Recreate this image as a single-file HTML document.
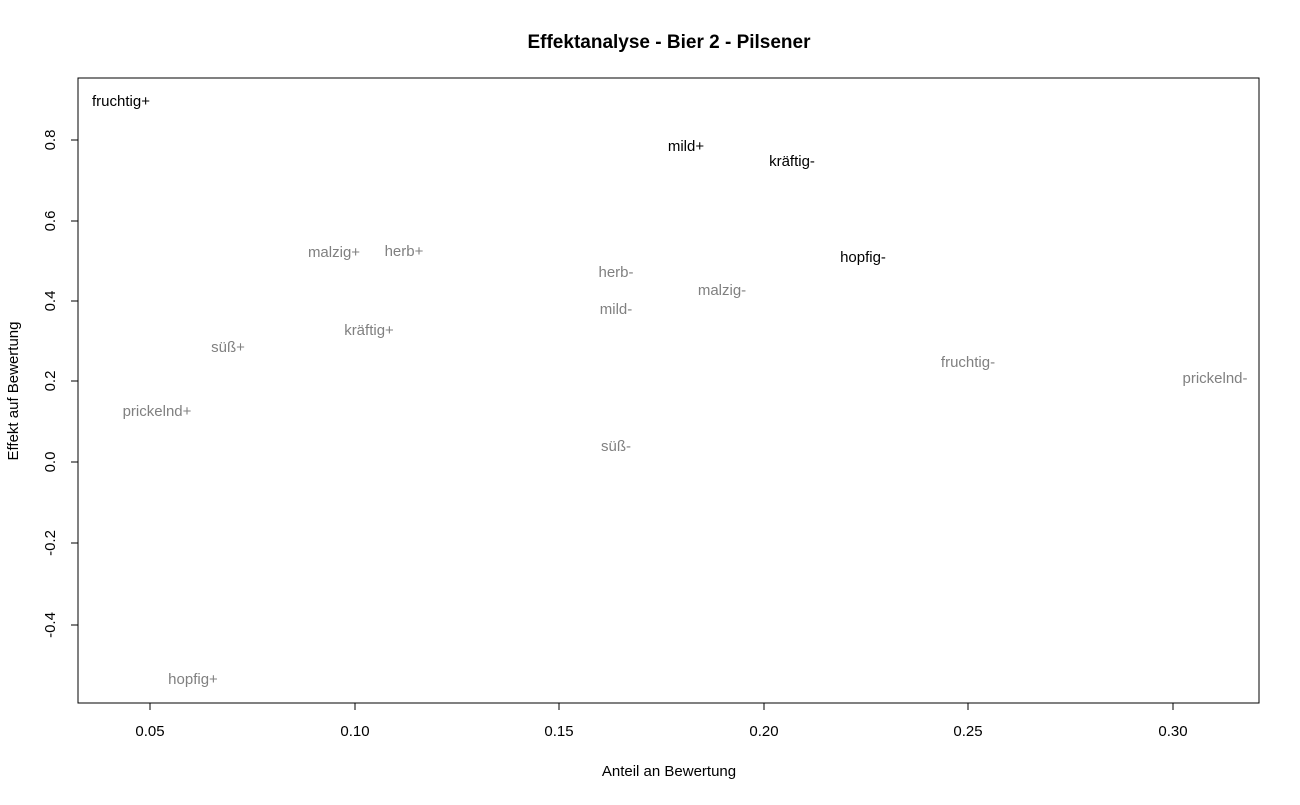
<!DOCTYPE html>
<html><head><meta charset="utf-8"><style>
body{margin:0;background:#fff;}
svg text{font-family:"Liberation Sans",Arial,sans-serif;}
</style></head><body>
<svg width="1300" height="800" xmlns="http://www.w3.org/2000/svg">
<rect width="1300" height="800" fill="#fff"/>
<text x="669" y="48" text-anchor="middle" font-size="19" font-weight="bold">Effektanalyse - Bier 2 - Pilsener</text>
<rect x="78" y="78" width="1181" height="625" fill="none" stroke="#000" stroke-width="1"/>
<g stroke="#000" stroke-width="1">
<line x1="150" y1="703" x2="1173" y2="703"/>
<line x1="150" y1="703" x2="150" y2="710"/>
<line x1="355" y1="703" x2="355" y2="710"/>
<line x1="559" y1="703" x2="559" y2="710"/>
<line x1="764" y1="703" x2="764" y2="710"/>
<line x1="968" y1="703" x2="968" y2="710"/>
<line x1="1173" y1="703" x2="1173" y2="710"/>
<line x1="78" y1="140" x2="78" y2="625"/>
<line x1="71" y1="140" x2="78" y2="140"/>
<line x1="71" y1="221" x2="78" y2="221"/>
<line x1="71" y1="301" x2="78" y2="301"/>
<line x1="71" y1="381" x2="78" y2="381"/>
<line x1="71" y1="462" x2="78" y2="462"/>
<line x1="71" y1="543" x2="78" y2="543"/>
<line x1="71" y1="625" x2="78" y2="625"/>
</g>
<g font-size="15" text-anchor="middle">
<text x="150" y="736">0.05</text>
<text x="355" y="736">0.10</text>
<text x="559" y="736">0.15</text>
<text x="764" y="736">0.20</text>
<text x="968" y="736">0.25</text>
<text x="1173" y="736">0.30</text>
<text x="669" y="776">Anteil an Bewertung</text>
<text transform="translate(55,140) rotate(-90)">0.8</text>
<text transform="translate(55,221) rotate(-90)">0.6</text>
<text transform="translate(55,301) rotate(-90)">0.4</text>
<text transform="translate(55,381) rotate(-90)">0.2</text>
<text transform="translate(55,462) rotate(-90)">0.0</text>
<text transform="translate(55,543) rotate(-90)">-0.2</text>
<text transform="translate(55,625) rotate(-90)">-0.4</text>
<text transform="translate(18,391) rotate(-90)">Effekt auf Bewertung</text>
</g>
<g font-size="15" text-anchor="middle">
<text x="121" y="106" fill="#000">fruchtig+</text>
<text x="686" y="151" fill="#000">mild+</text>
<text x="792" y="166" fill="#000">kräftig-</text>
<text x="863" y="262" fill="#000">hopfig-</text>
<g fill="#808080">
<text x="334" y="257">malzig+</text>
<text x="404" y="256">herb+</text>
<text x="616" y="277">herb-</text>
<text x="722" y="295">malzig-</text>
<text x="616" y="314">mild-</text>
<text x="369" y="335">kräftig+</text>
<text x="228" y="352">süß+</text>
<text x="968" y="367">fruchtig-</text>
<text x="1215" y="383">prickelnd-</text>
<text x="157" y="416">prickelnd+</text>
<text x="616" y="451">süß-</text>
<text x="193" y="684">hopfig+</text>
</g>
</g>
</svg>
</body></html>
